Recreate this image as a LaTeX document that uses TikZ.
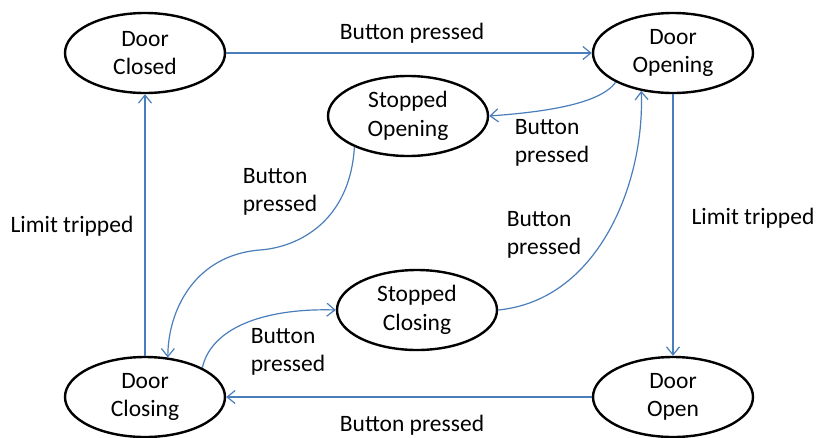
\documentclass[tikz,border=0pt]{standalone}
\usepackage{fontspec}
\setmainfont{Carlito}
\usetikzlibrary{arrows.meta,shapes.geometric}
\definecolor{linkblue}{RGB}{74,126,187}
\begin{document}
\begin{tikzpicture}[x=1pt,y=-1pt,
  state/.style={ellipse,draw=black,line width=2.4pt,minimum width=160pt,minimum height=80pt,
    inner sep=0pt,align=center,font=\fontsize{23.5}{28.5}\selectfont},
  lbl/.style={inner sep=0pt,align=left,font=\fontsize{23.5}{28.5}\selectfont},
  trans/.style={draw=linkblue,line width=1.2pt,-{Straight Barb[length=8pt,width=13pt,line width=1.2pt]}}]
\useasboundingbox (0,0) rectangle (818,437);

% states
\node[state] (dc)  at (145,53)  {Door\\Closed};
\node[state] (dop) at (673,53)  {Door\\Opening};
\node[state] (so)  at (408,116) {Stopped\\Opening};
\node[state] (sc)  at (417,310) {Stopped\\Closing};
\node[state] (dcl) at (145,397) {Door\\Closing};
\node[state] (dopn) at (673,397) {Door\\Open};

% transitions
\draw[trans] (dc.east) -- (dop.west |- dc.east);
\draw[trans] (dop.207) .. controls (600,104) and (545,112) .. (so.east);
\draw[trans] (so.210) .. controls (350,220) and (300,247) .. (260,250)
                      .. controls (195,255) and (168,310) .. (dcl.60);
\draw[trans] (dcl.27) .. controls (212,325) and (270,308) .. (sc.west);
\draw[trans] (sc.east) .. controls (600,300) and (645,180) .. (dop.230);
\draw[trans] (dop.south) -- (dopn.north);
\draw[trans] (dopn.west) -- (dcl.east);
\draw[trans] (dcl.north) -- (dc.south);

% labels
\node[lbl] (l1) at (412,33)  {Button pressed};
\node[lbl] (l2) at (552,143) {Button\\pressed};
\node[lbl] (l3) at (280,192) {Button\\pressed};
\node[lbl] (l4) at (544,235) {Button\\pressed};
\node[lbl] (l5) at (288,352) {Button\\pressed};
\node[lbl] (l6) at (753,218) {Limit tripped};
\node[lbl] (l7) at (72,226)  {Limit tripped};
\node[lbl] (l8) at (412,425) {Button pressed};
\end{tikzpicture}
\end{document}
